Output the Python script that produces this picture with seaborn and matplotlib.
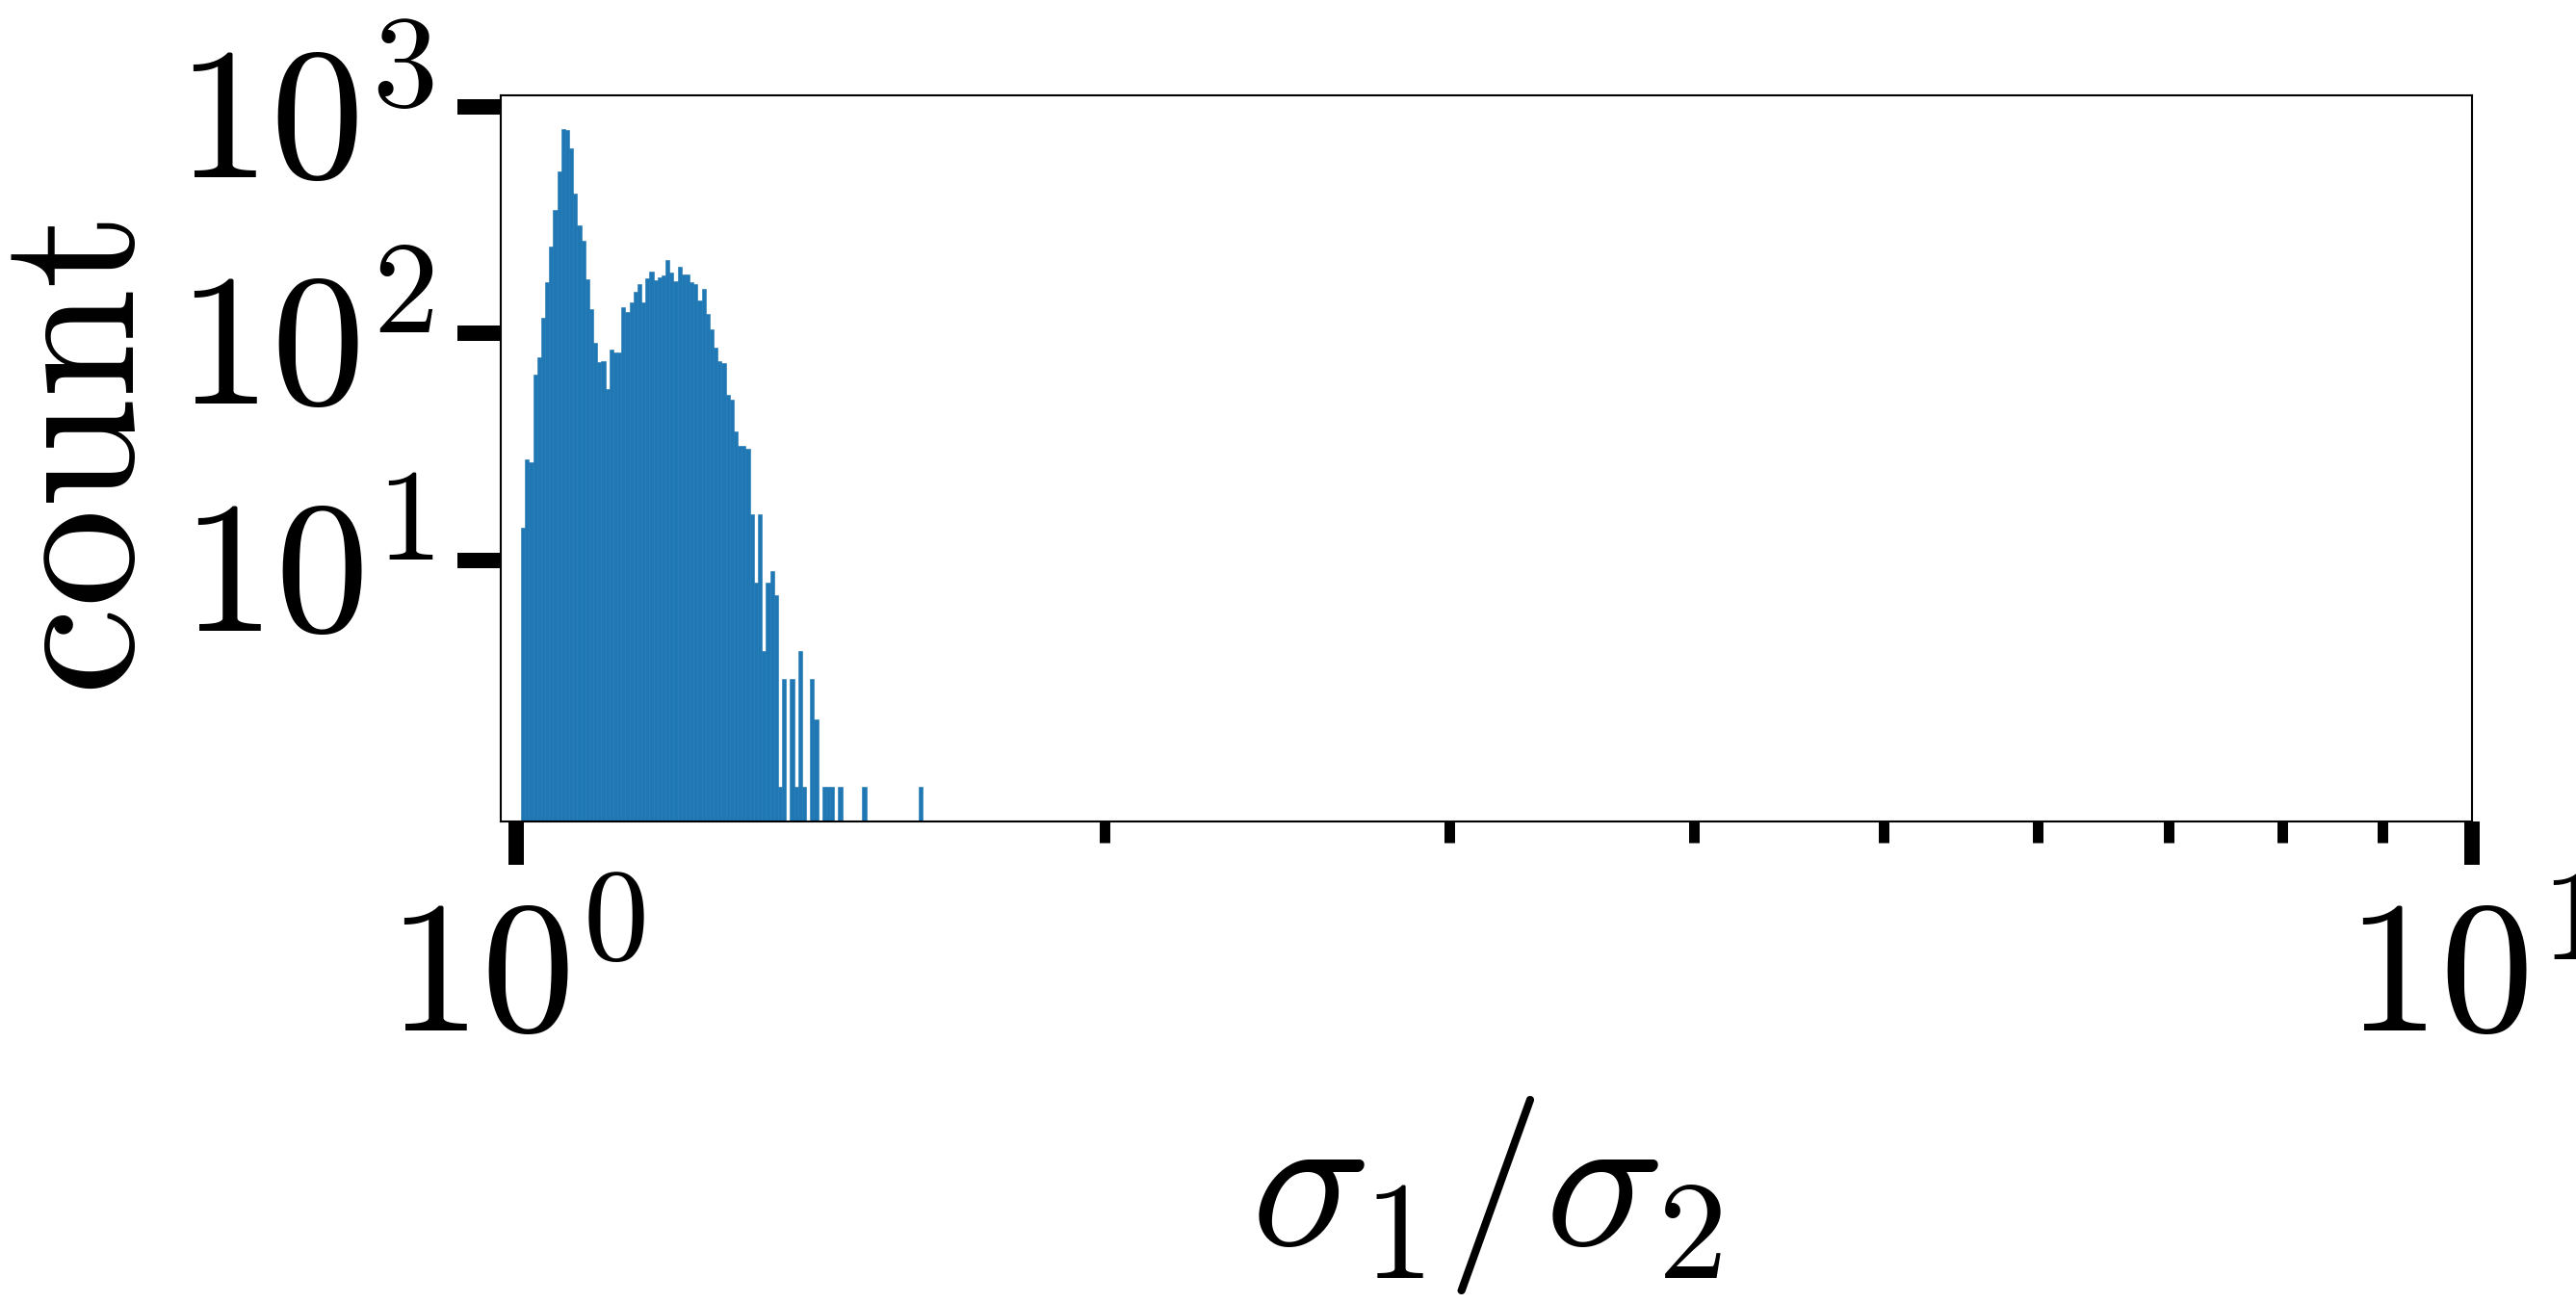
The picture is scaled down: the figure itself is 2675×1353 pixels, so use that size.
import numpy as np
import pandas as pd
import matplotlib
matplotlib.use('Agg')
import matplotlib.pyplot as plt
from matplotlib.ticker import FixedLocator, NullLocator, NullFormatter
import seaborn as sns

# ---- data (100 log-spaced bins) ----
counts = [14, 28, 27, 66, 79, 117, 168, 243, 351, 520,
          800, 792, 657, 415, 301, 256, 174, 128, 91, 75,
          76, 57, 85, 83, 83, 131, 125, 138, 153, 165,
          138, 175, 188, 172, 177, 180, 211, 186, 170, 197,
          182, 182, 168, 165, 140, 157, 122, 105, 87, 76,
          74, 54, 51, 37, 32, 32, 31, 16, 8, 16,
          4, 8, 9, 7, 1, 3, 0, 3, 1, 4,
          1, 0, 3, 2, 0, 1, 1, 1, 0, 1,
          0, 0, 0, 0, 0, 1, 0, 0, 0, 0,
          0, 0, 0, 0, 0, 0, 0, 0, 0, 1]
bin_lo = 1.00568
bin_hi = 1.6134
x_major_ticks = [1, 10]
x_major_labels = [r'$10^{0}$', r'$10^{1}$']
x_minor_ticks = [2, 3, 4, 5, 6, 7, 8, 9]
y_ticks = [10, 100, 1000]
y_tick_labels = [r'$10^{1}$', r'$10^{2}$', r'$10^{3}$']
x_label = r'$\sigma_1/\sigma_2$'
y_label = r'$\mathrm{count}$'
xlim = (0.982, 10)
ylim = (0.706, 1125)

plt.rcParams['mathtext.fontset'] = 'cm'
plt.rcParams['axes.unicode_minus'] = False

edges = np.geomspace(bin_lo, bin_hi, len(counts) + 1)
centers = np.sqrt(edges[:-1] * edges[1:])
df = pd.DataFrame({'ratio': centers, 'n': np.asarray(counts, dtype=float)})

fig = plt.figure(figsize=(26.75, 13.53), dpi=100)
ax = fig.add_axes([0.19439, 0.36955, 0.76523, 0.55728])

color = '#1f77b4'
kw = dict(data=df, x='ratio', weights='n', log_scale=True, ax=ax,
          color=color, alpha=1, edgecolor=color, linewidth=0.4)
sns.histplot(bins=list(edges), **kw)
xs = [p.get_x() for p in ax.patches]
if not xs or abs(min(xs) - edges[0]) > 1e-3:
    for p in list(ax.patches):
        p.remove()
    sns.histplot(bins=list(np.log10(edges)), **kw)

ax.set_yscale('log')
ax.set_xlim(*xlim)
ax.set_ylim(*ylim)

ax.xaxis.set_major_locator(FixedLocator(x_major_ticks))
ax.set_xticklabels(x_major_labels)
ax.xaxis.set_minor_locator(FixedLocator(x_minor_ticks))
ax.xaxis.set_minor_formatter(NullFormatter())
ax.yaxis.set_major_locator(FixedLocator(y_ticks))
ax.set_yticklabels(y_tick_labels)
ax.yaxis.set_minor_locator(NullLocator())
ax.yaxis.set_minor_formatter(NullFormatter())

ax.tick_params(which='major', length=32.4, width=11.5, labelsize=140, pad=18,
               direction='out', color='black')
ax.tick_params(which='minor', length=16, width=7.9, direction='out', color='black')
for s in ax.spines.values():
    s.set_linewidth(1.5)
    s.set_color('black')

ax.set_xlabel(x_label, fontsize=148)
ax.set_ylabel(y_label, fontsize=148)
ax.xaxis.set_label_coords(0.5, -0.375)
ax.yaxis.set_label_coords(-0.165, 0.5)

fig.savefig('out.png', dpi=100)
